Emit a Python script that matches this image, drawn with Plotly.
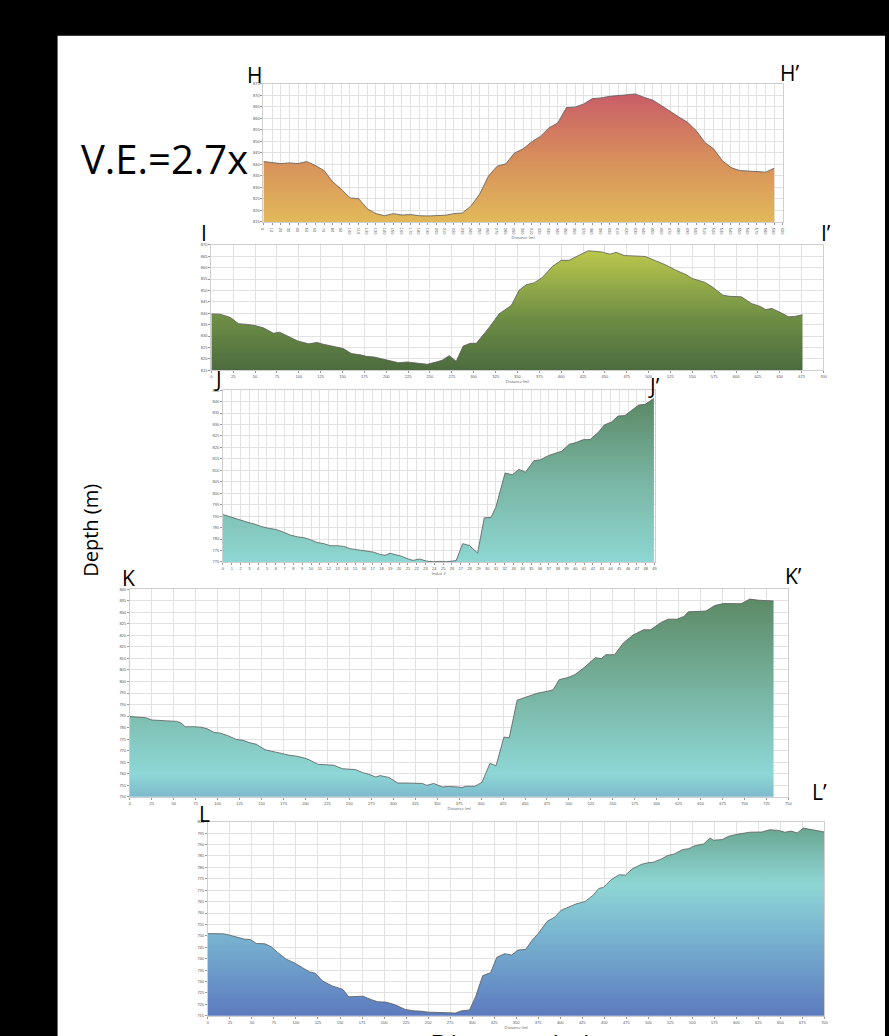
import plotly.graph_objects as go

# ---------------- data ----------------
h_dist = [0,10,20,30,40,50,60,70,80,90,100,110,120,130,140,150,160,170,180,190,200,210,220,230,240,250,260,270,280,290,
          300,310,320,330,340,350,360,370,380,390,400,410,420,430,440,450,460,470,480,490,500,510,520,530,540,550,560,570,580,590]
h_elev = [841.2,840.9,840.3,840.6,840.3,841.2,839.5,837.3,832.4,829.2,825.4,825.1,820.7,818.6,817.7,818.6,818.0,818.2,817.7,817.6,
          817.9,817.9,818.6,818.9,822.0,827.2,834.9,839.2,840.2,844.9,846.7,849.8,852.1,855.9,857.9,864.6,864.8,866.2,868.5,868.8,
          869.5,869.8,870.0,870.5,869.0,867.8,865.4,862.8,860.5,858.2,854.6,849.5,846.7,841.6,838.6,837.3,837.0,836.9,836.6,838.3]

i_dist = [0,10,22,31,41,50,60,71,78,88,99,111,121,128,139,151,160,170,177,186,196,205,214,224,233,247,259,264,272,280,
          288,296,303,310,318,329,343,352,360,369,378,390,400,409,418,431,446,456,463,472,484,496,505,519,531,543,550,564,573,585,
          593,606,618,627,634,641,653,660,667,676]
i_elev = [839.7,839.6,838.1,835.4,835.1,834.6,833.5,831.2,831.7,829.7,827.8,826.6,827.2,826.4,825.6,824.5,822.3,821.8,821.1,820.8,
          819.9,819.1,818.3,818.6,818.1,817.6,818.8,819.4,821.4,818.9,825.6,826.8,826.8,830.0,833.9,839.7,843.4,850.1,852.5,853.3,
          855.5,860.5,863.2,863.2,864.9,867.4,866.9,865.9,866.7,865.3,865.1,864.9,863.5,861.3,858.9,856.9,855.2,853.6,851.5,847.9,
          847.4,847.2,844.2,843.1,841.6,842.1,839.9,838.4,838.6,839.3]

j_idx = [0,0.94,1.99,3.0,3.57,4.32,5.07,6.01,6.76,7.7,8.45,9.2,9.95,10.7,11.45,12.2,12.96,13.71,14.46,15.21,
         16.15,17.09,17.84,18.4,18.96,19.71,20.28,21.03,21.59,22.34,23.09,23.85,24.6,25.35,26.47,27.22,27.98,28.91,29.67,30.42,
         30.98,32.03,32.86,33.61,34.36,35.3,36.05,36.99,38.11,38.49,39.32,39.99,40.93,41.68,42.62,43.3,44.12,44.87,45.63,46.38,
         47.2,47.95,48.93]
j_elev = [790.7,789.5,788.1,787.1,786.6,785.5,784.8,784.2,783.2,781.7,781.0,780.6,779.7,778.5,778.0,777.1,777.1,776.8,775.8,775.4,
          774.6,774.3,773.3,772.9,773.8,773.2,772.5,771.3,770.7,771.3,770.4,770.1,770.3,770.1,770.6,778.0,777.2,773.9,789.3,789.4,
          793.9,808.8,808.1,810.4,809.2,814.2,814.6,816.5,817.9,818.4,821.4,822.0,823.4,823.4,826.6,829.8,831.1,833.7,833.9,836.2,
          838.5,838.8,841.4]

k_dist = [0,10,18,25,35,45,53,58,63,73,81,88,96,103,111,121,129,136,144,154,164,174,182,189,197,204,214,227,232,242,
          252,257,265,272,280,285,295,305,315,325,333,338,346,356,363,373,378,383,393,401,410,417,426,432,441,451,464,477,482,489,
          499,507,517,530,537,542,552,562,573,585,593,605,613,623,631,636,646,656,666,676,696,706,716,726,733]
k_elev = [784.8,784.6,784.3,783.3,783.1,783.1,782.7,782.1,780.4,780.4,780.2,779.5,777.9,777.6,776.6,774.9,774.5,773.5,772.8,770.4,
          769.7,768.7,768.0,767.7,767.0,766.1,764.1,764.0,763.7,762.2,761.8,761.8,760.5,759.8,758.6,759.2,758.4,756.0,756.0,756.0,
          755.8,755.0,755.8,754.3,754.5,754.3,754.0,754.6,754.6,756.3,764.5,763.5,775.9,775.6,791.9,793.2,794.9,795.9,796.4,800.8,
          801.7,803.0,805.9,810.3,809.9,811.6,811.6,816.7,820.1,822.4,822.4,825.6,827.0,827.0,828.2,830.2,830.4,830.5,832.9,833.8,
          833.7,835.7,835.2,834.9,834.9]

l_dist = [0,18,25,32,41,48,55,65,72,79,89,98,107,115,122,130,141,148,153,160,169,176,186,193,202,212,224,233,243,250,
          259,273,281,288,297,304,312,321,328,337,345,352,361,368,375,385,394,401,409,418,428,437,444,449,458,467,474,482,492,499,
          506,515,522,529,539,546,553,563,570,574,584,591,601,608,615,629,638,648,655,662,669,676,686,700]
l_elev = [751.0,750.9,750.3,749.6,748.6,748.4,746.7,746.5,745.2,742.8,739.8,738.2,736.1,734.3,733.6,730.3,728.1,727.1,726.6,723.3,
          723.3,723.6,722.0,721.1,721.0,719.9,717.8,717.2,717.0,716.6,716.5,716.2,716.2,717.2,717.5,723.4,732.6,733.9,740.6,742.2,
          741.6,743.8,744.1,748.1,751.0,756.3,758.3,761.2,762.5,764.0,765.0,767.7,770.8,771.2,774.7,776.8,776.6,779.4,781.3,782.0,
          782.3,783.7,785.2,785.8,787.8,788.2,789.5,790.3,792.9,791.9,792.2,793.6,794.5,794.9,795.4,795.5,796.5,796.2,795.4,795.9,
          795.1,797.2,796.5,795.5]

W, H = 889, 1036

def px(x):
    return x / W

def py(y):
    return 1 - y / H

fig = go.Figure()

panels = [
    ("H", h_dist, h_elev, [0, 600], 10, [815, 875], 5, (262.5, 786), (81, 220),
     [[0, "#e2b95a"], [0.45, "#d8935a"], [1, "#c95d68"]], "Distance (m)"),
    ("I", i_dist, i_elev, [0, 700], 25, [815, 870], 5, (210, 827), (243, 369),
     [[0, "#4b6b3f"], [0.45, "#6f8f45"], [1, "#bcc84c"]], "Distance (m)"),
    ("J", j_idx, j_elev, [0, 49], 1, [770, 845], 5, (221.7, 656.7), (389, 561.7),
     [[0, "#8ed7d3"], [0.5, "#79b5a3"], [1, "#5a8864"]], "Index #"),
    ("K", k_dist, k_elev, [0, 750], 25, [750, 840], 5, (127.9, 791.7), (589, 797.7),
     [[0, "#7cb8cc"], [0.12, "#8ed7d6"], [0.5, "#7ab7a6"], [1, "#5c8a66"]], "Distance (m)"),
    ("L", l_dist, l_elev, [0, 700], 25, [715, 800], 5, (206.5, 828), (822.7, 1017.7),
     [[0, "#5c7abf"], [0.45, "#7ab6d1"], [0.7, "#8ed6d4"], [1, "#6aa792"]], "Distance (m)"),
]

layout_axes = {}
for n, (name, xs, ys, xr, xd, yr, yd, dx, dy, cs, xt) in enumerate(panels, start=1):
    sfx = "" if n == 1 else str(n)
    fig.add_trace(go.Scatter(
        x=xs, y=ys, mode="lines", fill="tozeroy",
        line=dict(color="#5a5a5a", width=0.8),
        fillgradient=dict(type="vertical", colorscale=cs, start=yr[0], stop=max(ys)),
        xaxis="x" + sfx, yaxis="y" + sfx, showlegend=False, hoverinfo="skip",
    ))
    common = dict(showgrid=True, gridcolor="#e2e2e2", gridwidth=0.7,
                  showline=True, linecolor="#cfcfcf", linewidth=1, mirror=True,
                  zeroline=False, ticks="outside", ticklen=2, tickcolor="#999",
                  tickfont=dict(size=4, color="#555", family="Arial"))
    layout_axes["xaxis" + sfx] = dict(common, domain=[px(dx[0]), px(dx[1])], range=xr, dtick=xd,
                                      tick0=0, anchor="y" + sfx,
                                      title=dict(text=xt, font=dict(size=4, color="#555"), standoff=1))
    layout_axes["yaxis" + sfx] = dict(common, domain=[py(dy[1]), py(dy[0])], range=yr, dtick=yd,
                                      tick0=yr[0], anchor="x" + sfx)

fig.update_layout(**layout_axes)

labels = [
    ("H", 253, 72, 21), ("H\u2019", 793, 70, 21),
    ("I", 203, 231, 21), ("I\u2019", 830, 231, 21),
    ("J", 217, 378, 21), ("J\u2019", 656, 385, 21),
    ("K", 126, 578, 21), ("K\u2019", 797, 576, 21),
    ("L\u2019", 823, 793, 21), ("L", 203, 815, 21),
]
ann = []
for t, x, y, s in labels:
    ann.append(dict(text=t, x=px(x), y=py(y), xref="paper", yref="paper", showarrow=False,
                    xanchor="center", yanchor="middle",
                    font=dict(size=s, color="#000", family="Open Sans")))
ann.append(dict(text="V.E.=2.7x", x=px(163), y=py(156), xref="paper", yref="paper", showarrow=False,
                xanchor="center", yanchor="middle", font=dict(size=40, color="#000", family="Open Sans")))
ann.append(dict(text="Depth (m)", x=px(88), y=py(530), xref="paper", yref="paper", showarrow=False,
                textangle=-90, xanchor="center", yanchor="middle",
                font=dict(size=20, color="#000", family="Open Sans")))
ann.append(dict(text="Distance (m)", x=px(512), y=py(1046), xref="paper", yref="paper", showarrow=False,
                xanchor="center", yanchor="middle", font=dict(size=28, color="#000", family="Open Sans")))

fig.update_layout(
    width=W, height=H, margin=dict(l=0, r=0, t=0, b=0),
    paper_bgcolor="#000000", plot_bgcolor="#ffffff",
    annotations=ann,
    shapes=[dict(type="rect", xref="paper", yref="paper", x0=px(55), x1=1, y0=-0.05, y1=py(33),
                 fillcolor="#ffffff", line=dict(width=0), layer="below")],
)

fig.write_html("out.html")
